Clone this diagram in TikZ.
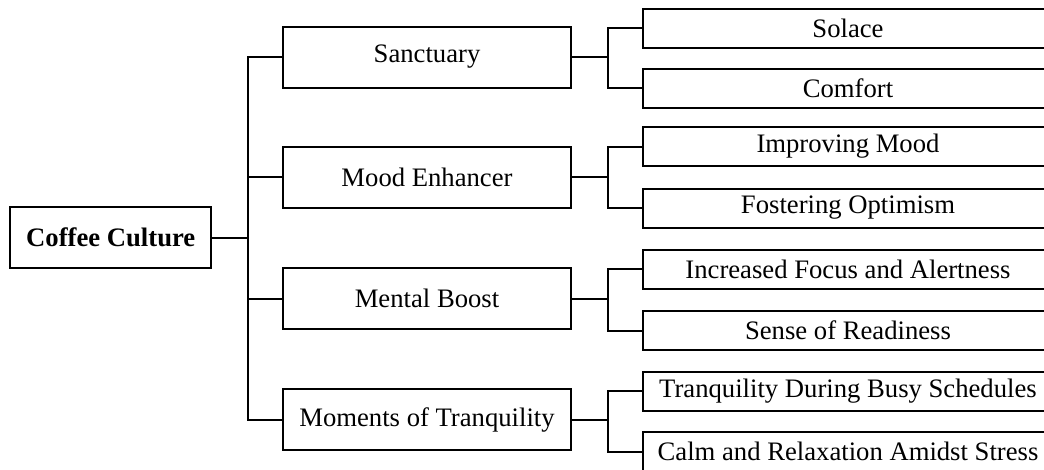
\documentclass[tikz,border=0pt]{standalone}
\usepackage{fontspec}
\setmainfont{Liberation Serif}
\begin{document}
\begin{tikzpicture}[x=0.75pt,y=-0.75pt,
  every node/.style={font=\fontsize{20}{24}\selectfont},
  box/.style={draw=black,line width=1.5pt,inner sep=0pt,anchor=center,align=center},
  rootbox/.style={box,minimum width=150.4pt,minimum height=45.75pt,font=\fontsize{20}{24}\selectfont\bfseries},
  midbox/.style={box,minimum width=216pt,minimum height=45.75pt},
  leafbox/.style={box,minimum width=307.5pt,minimum height=29.25pt},
  link/.style={draw=black,line width=1.5pt}]
\clip (0,0) rectangle (1044,469);
\fill[white] (0,0) rectangle (1044,469);
\node[rootbox] (root) at (110.75,237.5) {Coffee Culture};
\node[midbox] (s1) at (427,57) {Sanctuary};
\node[midbox] (s2) at (427,177) {Mood Enhancer};
\node[midbox] (s3) at (427,298.5) {Mental Boost};
\node[midbox] (s4) at (427,419.5) {Moments of Tranquility};
\node[leafbox] (a1) at (848,28) {Solace};
\node[leafbox] (a2) at (848,88) {Comfort};
\node[leafbox] (b1) at (848,146.5) {Improving Mood};
\node[leafbox] (b2) at (848,208) {Fostering Optimism};
\node[leafbox] (c1) at (848,269.3) {Increased Focus and Alertness};
\node[leafbox] (c2) at (848,330.5) {Sense of Readiness};
\node[leafbox] (d1) at (848,391.3) {Tranquility During Busy Schedules};
\node[leafbox] (d2) at (848,451.5) {Calm and Relaxation Amidst Stress};
\coordinate (bus) at (248,0);
\coordinate (lb) at (608,0);
\draw[link] (root.east) -- (root.east -| bus);
\draw[link] (s1.west) -- (s1.west -| bus) -- (s4.west -| bus) -- (s4.west);
\draw[link] (s2.west) -- (s2.west -| bus);
\draw[link] (s3.west) -- (s3.west -| bus);
\foreach \p/\u/\v in {s1/a1/a2,s2/b1/b2,s3/c1/c2,s4/d1/d2}{
  \draw[link] (\p.east) -- (\p.east -| lb);
  \draw[link] (\u.west) -- (\u.west -| lb) -- (\v.west -| lb) -- (\v.west);
}
\end{tikzpicture}
\end{document}
